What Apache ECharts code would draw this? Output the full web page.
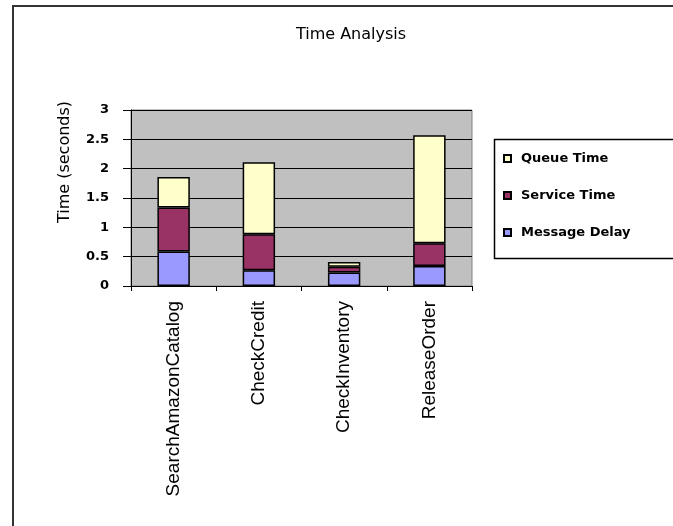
<!DOCTYPE html>
<html>
<head>
<meta charset="utf-8">
<script src="https://cdn.jsdelivr.net/npm/echarts@6/dist/echarts.min.js"></script>
<style>html,body{margin:0;padding:0;background:#fff;}#c{width:673px;height:526px;}</style>
</head>
<body>
<div id="c"></div>
<script>
var categories = ['SearchAmazonCatalog', 'CheckCredit', 'CheckInventory', 'ReleaseOrder'];
var messageDelay = [0.59, 0.27, 0.23, 0.34];
var serviceTime = [0.75, 0.61, 0.10, 0.39];
var queueTime = [0.52, 1.23, 0.08, 1.84];
var seriesNames = ['Message Delay', 'Service Time', 'Queue Time'];
var seriesColors = ['#9999ff', '#993366', '#ffffcc'];
var chartTitle = 'Time Analysis';
var yTitle = 'Time (seconds)';

var chart = echarts.init(document.getElementById('c'), null, {renderer: 'canvas'});
var values = [messageDelay, serviceTime, queueTime];
var series = values.map(function (v, i) {
  return {
    name: seriesNames[i],
    type: 'bar',
    stack: 'total',
    barWidth: '38%',
    data: v,
    itemStyle: {color: seriesColors[i], borderColor: '#000', borderWidth: 1.5},
    emphasis: {disabled: true}
  };
});

chart.setOption({
  animation: false,
  backgroundColor: '#fff',
  title: {
    text: chartTitle,
    left: 346, top: 22, textAlign: 'center',
    textStyle: {fontFamily: 'DejaVu Sans', fontSize: 16, fontWeight: 'normal', color: '#000'}
  },
  grid: {left: 131, right: 201, top: 110, bottom: 240, show: true, backgroundColor: '#c0c0c0', borderColor: '#808080', borderWidth: 1},
  legend: {
    orient: 'vertical', left: 498, top: 147, itemGap: 24,
    itemWidth: 7, itemHeight: 7, icon: 'rect',
    data: ['Queue Time', 'Service Time', 'Message Delay'],
    textStyle: {fontFamily: 'DejaVu Sans', fontSize: 13, fontWeight: 'bold', color: '#000', padding: [0, 0, 0, 5]},
    selectedMode: false
  },
  xAxis: {
    type: 'category', data: categories,
    axisLine: {lineStyle: {color: '#000', width: 1}},
    axisTick: {show: true, length: 5, lineStyle: {color: '#000'}},
    axisLabel: {rotate: 90, margin: 15, fontFamily: 'Liberation Sans', fontSize: 19, color: '#000', interval: 0}
  },
  yAxis: {
    type: 'value', min: 0, max: 3, interval: 0.5,
    axisLine: {show: true, lineStyle: {color: '#000', width: 1}},
    axisTick: {show: true, length: 8, lineStyle: {color: '#000'}},
    axisLabel: {margin: 22, fontFamily: 'DejaVu Sans', fontSize: 13, fontWeight: 'bold', color: '#000'},
    splitLine: {show: true, lineStyle: {color: '#000', width: 1}}
  },
  graphic: [
    {type: 'line', shape: {x1: 13, y1: 5, x2: 13, y2: 526}, style: {stroke: '#333', lineWidth: 2}},
    {type: 'line', shape: {x1: 12, y1: 6, x2: 673, y2: 6}, style: {stroke: '#333', lineWidth: 2}},
    {type: 'rect', shape: {x: 494.5, y: 139.5, width: 180, height: 119}, style: {fill: 'none', stroke: '#000', lineWidth: 1.5}},
    {type: 'text', x: 65, y: 162, rotation: Math.PI / 2,
      style: {text: yTitle, fontFamily: 'DejaVu Sans', fontSize: 16, fill: '#000', align: 'center', verticalAlign: 'middle'}}
  ],
  series: series
});
</script>
</body>
</html>
